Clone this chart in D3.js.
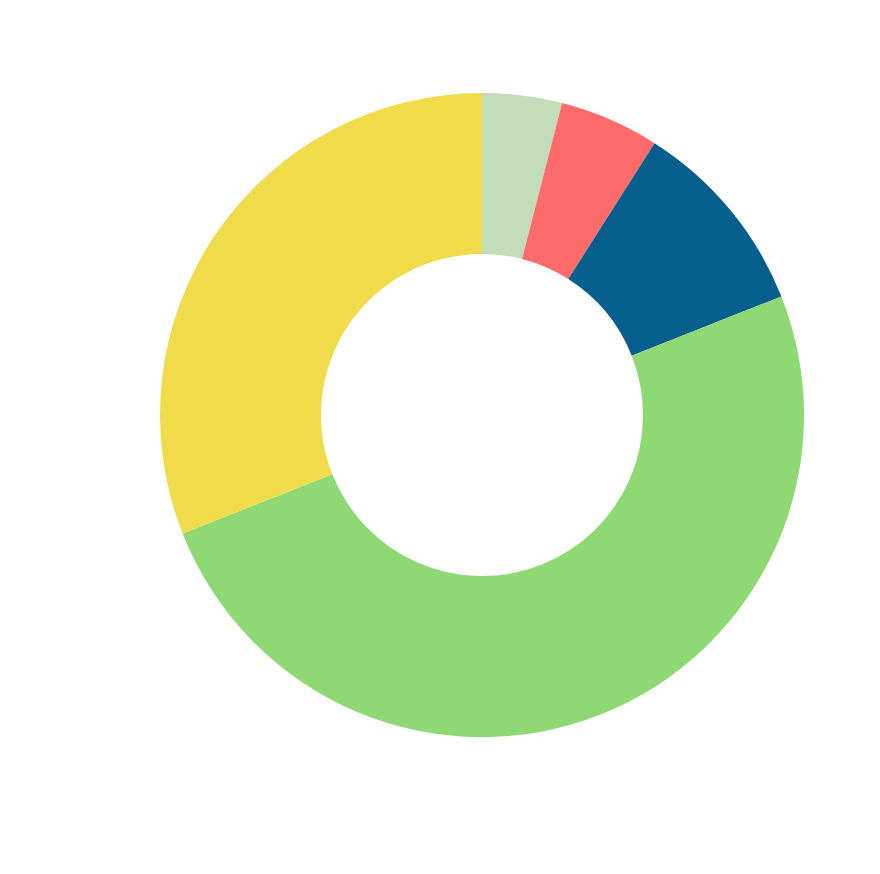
<!DOCTYPE html>
<html>
<head>
<meta charset="utf-8">
<script src="https://cdn.jsdelivr.net/npm/d3@7"></script>
<style>
  html, body { margin: 0; padding: 0; background: #ffffff; }
  svg { display: block; }
</style>
</head>
<body>
<svg id="chart" width="880" height="874"></svg>
<script>
const categories = ["A", "B", "C", "D", "E"];
const values = [4, 5, 10, 50, 31];
const colors = ["#c2ddb8", "#ff6b6b", "#065e8c", "#8fd974", "#f0db4a"];

const width = 880, height = 874;
const cx = 482, cy = 415;
const outerR = 322, innerR = 161;

const svg = d3.select("#chart");
const g = svg.append("g").attr("transform", `translate(${cx},${cy})`);

const data = categories.map((c, i) => ({ category: c, value: values[i] }));
const color = d3.scaleOrdinal().domain(categories).range(colors);

const pie = d3.pie().value(d => d.value).sort(null);
const arc = d3.arc().innerRadius(innerR).outerRadius(outerR);

g.selectAll("path")
  .data(pie(data))
  .join("path")
  .attr("d", arc)
  .attr("fill", d => color(d.data.category));
</script>
</body>
</html>
